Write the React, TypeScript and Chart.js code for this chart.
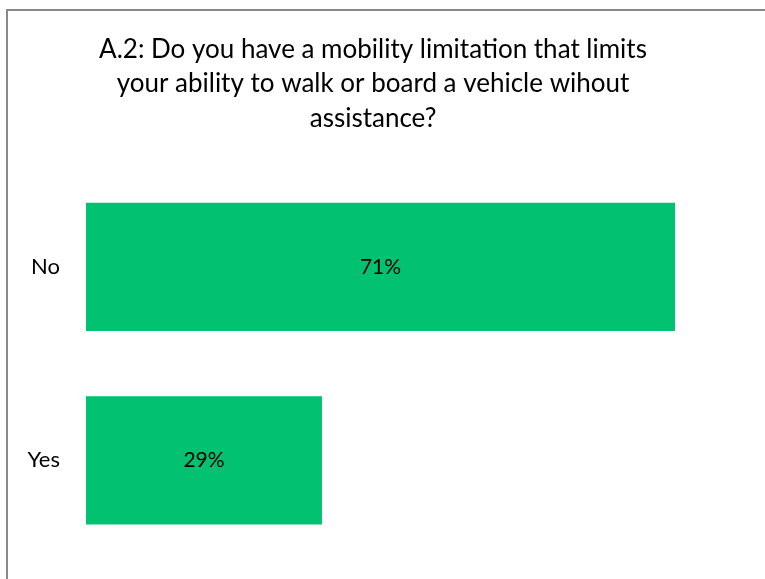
import React, { useEffect, useRef } from "react";
import { Chart, registerables } from "chart.js";

Chart.register(...registerables);

const titleLines = [
  "A.2: Do you have a mobility limitation that limits",
  "your ability to walk or board a vehicle wihout",
  "assistance?",
];
const categories = ["No", "Yes"];
const values = [71.4, 28.6];
const barColor = "#02C170";
const FONT = "Lato, 'Open Sans', sans-serif";

const valueLabels = {
  id: "valueLabels",
  afterDatasetsDraw(chart: any) {
    const { ctx } = chart;
    const meta = chart.getDatasetMeta(0);
    ctx.save();
    ctx.fillStyle = "#000";
    ctx.font = `21px ${FONT}`;
    ctx.textAlign = "center";
    ctx.textBaseline = "middle";
    meta.data.forEach((bar: any, i: number) => {
      const v = chart.data.datasets[0].data[i] as number;
      const x = (bar.base + bar.x) / 2;
      ctx.fillText(`${Math.round(v)}%`, x, bar.y);
    });
    ctx.restore();
  },
};

export default function App() {
  const ref = useRef<HTMLCanvasElement>(null);
  useEffect(() => {
    if (!ref.current) return;
    const chart = new Chart(ref.current, {
      type: "bar",
      data: {
        labels: categories,
        datasets: [
          {
            data: values,
            backgroundColor: barColor,
            borderWidth: 0,
            categoryPercentage: 1,
            barPercentage: 0.663,
          },
        ],
      },
      options: {
        indexAxis: "y",
        animation: false,
        responsive: false,
        layout: { padding: { left: 0, right: 19, top: 0, bottom: 22 } },
        plugins: {
          legend: { display: false },
          tooltip: { enabled: false },
          title: {
            display: true,
            text: titleLines,
            color: "#000",
            font: { family: FONT, size: 26, weight: "normal", lineHeight: 1.31 },
            padding: { top: 33, bottom: 35 },
          },
        },
        scales: {
          x: { display: false, min: 0, max: 80 },
          y: {
            grid: { display: false, drawTicks: false },
            border: { display: false },
            ticks: {
              color: "#000",
              font: { family: FONT, size: 22 },
              padding: 26,
            },
            afterFit(scale: any) {
              scale.width = 86;
              scale.paddingTop = 0;
              scale.paddingBottom = 0;
            },
          },
        },
      },
      plugins: [valueLabels],
    });
    return () => chart.destroy();
  }, []);
  return (
    <div
      style={{
        position: "fixed",
        left: 0,
        top: 0,
        width: 765,
        height: 579,
        overflow: "hidden",
        background: "#fff",
      }}
    >
      <div
        style={{
          position: "absolute",
          left: 6,
          top: 9,
          width: 900,
          height: 900,
          border: "2px solid #898989",
        }}
      />
      <canvas
        ref={ref}
        width={765}
        height={579}
        style={{ position: "absolute", left: 0, top: 0, width: 765, height: 579 }}
      />
    </div>
  );
}
